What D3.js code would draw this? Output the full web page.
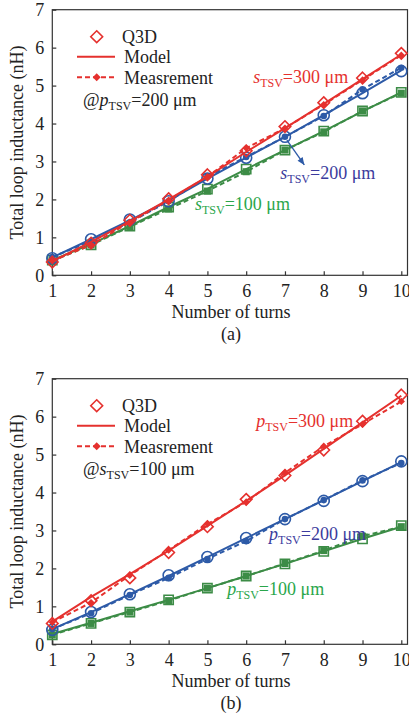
<!DOCTYPE html>
<html>
<head>
  <meta charset="utf-8">
  <title>Total loop inductance vs number of turns</title>
  <script src="https://d3js.org/d3.v7.min.js"></script>
  <style>
    html, body { margin: 0; padding: 0; background: #fff; }
    svg { display: block; font-family: "Liberation Serif", "DejaVu Serif", serif; }
    .axis path, .axis line { stroke: #333; stroke-width: 1.2; }
    .axis text { font-size: 18px; fill: #222; font-family: "Liberation Serif", serif; }
    .lbl { font-size: 18px; fill: #222; }
  </style>
</head>
<body>
<svg width="409" height="716"></svg>
<script>
// turns on the x axis
const turns = [1, 2, 3, 4, 5, 6, 7, 8, 9, 10];
const xTicks = [1, 2, 3, 4, 5, 6, 7, 8, 9, 10];
const yTicks = [0, 1, 2, 3, 4, 5, 6, 7];

// (a) p_TSV = 200 um, varying s_TSV
const a300q3d  = [0.35, 0.85, 1.45, 2.02, 2.65, 3.28, 3.92, 4.55, 5.20, 5.85];
const a300mod  = [0.37, 0.88, 1.42, 2.00, 2.60, 3.25, 3.88, 4.52, 5.17, 5.82];
const a300meas = [0.38, 0.80, 1.40, 1.98, 2.60, 3.35, 3.88, 4.50, 5.15, 5.80];
const a200q3d  = [0.45, 0.95, 1.47, 1.95, 2.55, 3.10, 3.65, 4.22, 4.80, 5.38];
const a200mod  = [0.47, 0.95, 1.45, 1.97, 2.55, 3.10, 3.65, 4.22, 4.80, 5.40];
const a200meas = [0.48, 0.90, 1.40, 1.95, 2.60, 3.12, 3.65, 4.20, 4.90, 5.47];
const a100q3d  = [0.40, 0.80, 1.30, 1.80, 2.27, 2.80, 3.30, 3.80, 4.33, 4.82];
const a100mod  = [0.40, 0.82, 1.30, 1.80, 2.28, 2.80, 3.30, 3.80, 4.32, 4.82];
const a100meas = [0.38, 0.80, 1.28, 1.75, 2.22, 2.73, 3.30, 3.78, 4.33, 4.80];

// (b) s_TSV = 100 um, varying p_TSV
const b300q3d  = [0.55, 1.15, 1.75, 2.42, 3.10, 3.82, 4.45, 5.12, 5.88, 6.57];
const b300mod  = [0.60, 1.25, 1.85, 2.47, 3.12, 3.78, 4.45, 5.15, 5.85, 6.55];
const b300meas = [0.58, 1.10, 1.82, 2.48, 3.17, 3.75, 4.52, 5.22, 5.80, 6.40];
const b200q3d  = [0.38, 0.85, 1.32, 1.82, 2.30, 2.80, 3.30, 3.78, 4.30, 4.82];
const b200mod  = [0.40, 0.85, 1.32, 1.80, 2.30, 2.80, 3.30, 3.80, 4.30, 4.80];
const b200meas = [0.40, 0.82, 1.30, 1.75, 2.25, 2.72, 3.30, 3.80, 4.32, 4.78];
const b100q3d  = [0.25, 0.55, 0.85, 1.17, 1.48, 1.80, 2.12, 2.45, 2.78, 3.13];
const b100mod  = [0.27, 0.57, 0.87, 1.17, 1.48, 1.80, 2.12, 2.45, 2.78, 3.10];
const b100meas = [0.25, 0.55, 0.85, 1.15, 1.48, 1.80, 2.13, 2.47, 2.85, 3.10];

const RED = "#e5312e", BLUE = "#2d5aa7", GREEN = "#3c8c46";
const BLUE_TXT = "#3b3b9d", GREEN_TXT = "#2aa64b";
const SERIF = "Liberation Serif, DejaVu Serif, serif";

const svg = d3.select("svg");
const x = d3.scaleLinear().domain([1, 10.16]).range([52.3, 407.5]);

function panel(top, caption, series, legendParam, legendVal, notes, arrow) {
  const y = d3.scaleLinear().domain([0, 7]).range([top + 265.6, top]);
  const g = svg.append("g");

  // frame
  g.append("rect").attr("x", x(1)).attr("y", y(7))
    .attr("width", x(10.16) - x(1)).attr("height", y(0) - y(7))
    .attr("fill", "none").attr("stroke", "#333").attr("stroke-width", 1.2);

  g.append("g").attr("class", "axis")
    .attr("transform", `translate(0,${y(0)})`)
    .call(d3.axisBottom(x).tickValues(xTicks).tickFormat(d3.format("d"))
      .tickSizeInner(-4).tickSizeOuter(0).tickPadding(9))
    .attr("font-family", SERIF).attr("font-size", 18)
    .call(a => a.select(".domain").remove());
  g.append("g").attr("class", "axis")
    .attr("transform", `translate(${x(1)},0)`)
    .call(d3.axisLeft(y).tickValues(yTicks).tickFormat(d3.format("d"))
      .tickSizeInner(-4).tickSizeOuter(0).tickPadding(8))
    .attr("font-family", SERIF).attr("font-size", 18)
    .call(a => a.select(".domain").remove());

  g.append("text").attr("class", "lbl").attr("text-anchor", "middle")
    .attr("x", (x(1) + x(10.16)) / 2 + 1).attr("y", y(0) + 43).text("Number of turns");
  g.append("text").attr("class", "lbl").attr("text-anchor", "middle")
    .attr("x", (x(1) + x(10.16)) / 2 + 1).attr("y", y(0) + 65).text(caption);
  g.append("text").attr("class", "lbl").attr("text-anchor", "middle")
    .attr("transform", `translate(23,${(y(0) + y(7)) / 2}) rotate(-90)`)
    .text("Total loop inductance (nH)");

  const line = d3.line().x((d, i) => x(turns[i])).y(d => y(d));

  series.forEach(s => {
    g.append("path").attr("d", line(s.mod)).attr("fill", "none")
      .attr("stroke", s.color).attr("stroke-width", 2);
    g.append("path").attr("d", line(s.meas)).attr("fill", "none")
      .attr("stroke", s.color).attr("stroke-width", 2).attr("stroke-dasharray", "5,3");
    const sym = s.shape;
    const big = sym === d3.symbolDiamond2 ? 85 : sym === d3.symbolCircle ? 95 : 85;
    g.selectAll(null).data(s.q3d).join("path")
      .attr("transform", (d, i) => `translate(${x(turns[i])},${y(d)})`)
      .attr("d", d3.symbol().type(sym).size(big)())
      .attr("fill", "none").attr("stroke", s.color).attr("stroke-width", 1.6);
    g.selectAll(null).data(s.meas).join("path")
      .attr("transform", (d, i) => `translate(${x(turns[i])},${y(d)})`)
      .attr("d", d3.symbol().type(s.fill).size(sym === d3.symbolSquare ? 50 : 34)())
      .attr("fill", s.color);
  });

  if (arrow) {
    const c = arrow.color;
    g.append("line").attr("x1", x(arrow.from[0])).attr("y1", y(arrow.from[1]))
      .attr("x2", x(arrow.to[0])).attr("y2", y(arrow.to[1]))
      .attr("stroke", c).attr("stroke-width", 1.3);
    const ang = Math.atan2(y(arrow.to[1]) - y(arrow.from[1]), x(arrow.to[0]) - x(arrow.from[0]));
    const tx = x(arrow.to[0]), ty = y(arrow.to[1]);
    const p = [[tx, ty],
      [tx - 8 * Math.cos(ang - 0.4), ty - 8 * Math.sin(ang - 0.4)],
      [tx - 8 * Math.cos(ang + 0.4), ty - 8 * Math.sin(ang + 0.4)]];
    g.append("path").attr("d", "M" + p.join("L") + "Z").attr("fill", c);
  }

  // annotations
  notes.forEach(n => {
    const t = g.append("text").attr("x", x(n.x)).attr("y", y(n.y))
      .attr("font-size", 18).attr("fill", n.color);
    t.append("tspan").attr("font-style", "italic").text(n.v);
    t.append("tspan").attr("font-size", 12).attr("dy", 4).text("TSV");
    t.append("tspan").attr("dy", -4).text("=" + n.val + " \u03bcm");
  });

  // legend
  const lx = 77, ly = top + 27;
  g.append("path").attr("transform", `translate(96.7,${ly})`)
    .attr("d", d3.symbol().type(d3.symbolDiamond2).size(90)())
    .attr("fill", "none").attr("stroke", RED).attr("stroke-width", 1.6);
  g.append("line").attr("x1", lx).attr("x2", lx + 38).attr("y1", ly + 20).attr("y2", ly + 20)
    .attr("stroke", RED).attr("stroke-width", 2);
  g.append("line").attr("x1", lx).attr("x2", lx + 38).attr("y1", ly + 40.5).attr("y2", ly + 40.5)
    .attr("stroke", RED).attr("stroke-width", 2).attr("stroke-dasharray", "5,3");
  g.append("path").attr("transform", `translate(96.7,${ly + 40.5})`)
    .attr("d", d3.symbol().type(d3.symbolDiamond2).size(40)()).attr("fill", RED);
  g.append("text").attr("class", "lbl").attr("x", 122).attr("y", ly + 6).text("Q3D");
  g.append("text").attr("class", "lbl").attr("x", 124).attr("y", ly + 26).text("Model");
  g.append("text").attr("class", "lbl").attr("x", 124).attr("y", ly + 47).text("Measrement");
  const t = g.append("text").attr("class", "lbl").attr("x", 83).attr("y", ly + 69);
  t.append("tspan").text("@");
  t.append("tspan").attr("font-style", "italic").text(legendParam);
  t.append("tspan").attr("font-size", 12).attr("dy", 4).text("TSV");
  t.append("tspan").attr("dy", -4).text("=" + legendVal + " \u03bcm");
}

panel(9.7, "(a)", [
  { color: GREEN, shape: d3.symbolSquare, fill: d3.symbolSquare, q3d: a100q3d, mod: a100mod, meas: a100meas },
  { color: BLUE, shape: d3.symbolCircle, fill: d3.symbolCircle, q3d: a200q3d, mod: a200mod, meas: a200meas },
  { color: RED, shape: d3.symbolDiamond2, fill: d3.symbolDiamond2, q3d: a300q3d, mod: a300mod, meas: a300meas }
], "p", "200", [
  { v: "s", val: "300", x: 6.18, y: 5.06, color: RED },
  { v: "s", val: "200", x: 6.88, y: 2.54, color: BLUE_TXT },
  { v: "s", val: "100", x: 4.68, y: 1.72, color: GREEN_TXT }
], { from: [7.05, 3.56], to: [7.5, 2.91], color: BLUE });

panel(378.7, "(b)", [
  { color: GREEN, shape: d3.symbolSquare, fill: d3.symbolSquare, q3d: b100q3d, mod: b100mod, meas: b100meas },
  { color: BLUE, shape: d3.symbolCircle, fill: d3.symbolCircle, q3d: b200q3d, mod: b200mod, meas: b200meas },
  { color: RED, shape: d3.symbolDiamond2, fill: d3.symbolDiamond2, q3d: b300q3d, mod: b300mod, meas: b300meas }
], "s", "100", [
  { v: "p", val: "300", x: 6.26, y: 5.73, color: RED },
  { v: "p", val: "200", x: 6.59, y: 2.75, color: BLUE_TXT },
  { v: "p", val: "100", x: 5.51, y: 1.30, color: GREEN_TXT }
], null);
</script>
</body>
</html>
